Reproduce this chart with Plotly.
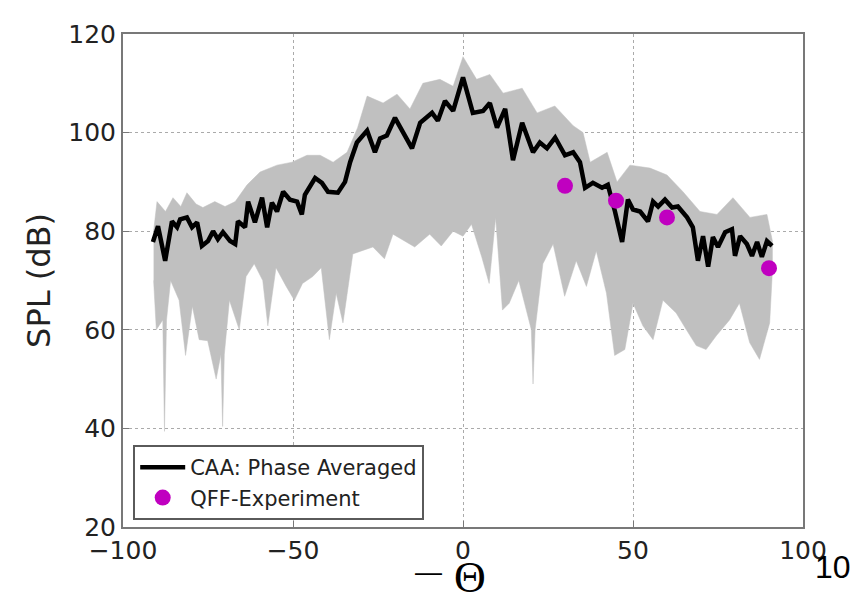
import plotly.graph_objects as go

# CAA phase averaged line
caa_theta = [-91.2, -89.7, -87.6, -85.6, -84.1, -83.2, -81.2, -79.7, -78.2, -76.8, -75, -73.5, -72.1, -70.6,
             -68.5, -67, -66.2, -64.1, -63.2, -61.2, -59.1, -57.6, -56.2, -54.7, -52.9, -50.9, -48.8, -47.4,
             -46.5, -43.5, -41.5, -39.7, -36.8, -34.7, -33.2, -31.2, -28.2, -25.9, -24.4, -22.4, -20, -17.6,
             -15, -12.6, -9.1, -7.4, -5.3, -2.9, 0, 2.9, 5.9, 7.9, 10, 12.4, 14.7, 17.4, 20.6, 22.6, 24.7,
             27.1, 30, 32.4, 34.4, 35.9, 38.2, 40.9, 42.6, 44.7, 46.8, 48.5, 50, 52.1, 54.4, 55.9, 57.4,
             59.4, 61.5, 63.2, 65.9, 67.6, 69.1, 70.6, 72.1, 73.5, 75, 77.1, 79.1, 80, 81.5, 83.5, 85, 86.5,
             87.9, 89.4, 90.9]
caa_spl = [77.8, 81, 74, 82, 80.8, 82.4, 82.8, 80.8, 81.8, 77, 78, 80, 78.4, 79.8,
           78, 77.4, 82, 80.8, 86, 81.8, 86.8, 80.8, 85.8, 84, 88, 86.4, 86, 83.4,
           87.4, 90.8, 89.8, 88, 87.8, 90, 94, 98, 100.4, 96, 98.8, 99.4, 103, 100,
           96.8, 102, 104, 102.4, 106.4, 104.4, 111.2, 104, 104.4, 106, 101, 104.8, 94.4, 102, 96, 98, 96.8,
           99, 95.4, 96, 94, 88.8, 89.8, 88.8, 89.4, 84, 77.8, 86.4, 84.4, 84, 82, 86, 85,
           86.4, 84.8, 85, 82.8, 80.8, 74, 79, 72.8, 78.8, 76.8, 79.8, 80.4, 75, 79, 77.4, 75, 77.8,
           74.8, 78, 77]

# Upper envelope of the spread band
upper_theta = [-91, -90, -87.5, -85.3, -83, -81.2, -78.5, -76.5, -73, -70, -67, -63.5, -59.7, -54.7, -50.3,
               -45.9, -42, -38.2, -34.1, -31, -28.2, -23.5, -19.4, -15.6, -11.8, -6.8, -2.9, 0, 4, 7.9,
               11.8, 17.4, 21.8, 27, 32.4, 35.3, 37.4, 42.4, 45.3, 49.1, 55, 60, 64.7, 69.7, 74.7,
               79.4, 84.4, 89.4, 91]
upper_spl = [80, 86, 84, 86.8, 85, 87.8, 85.5, 84.8, 86, 85, 86, 89.4, 92, 93.4, 94,
             95.4, 95.4, 94, 96, 101, 107.4, 106, 107.8, 104.8, 110, 110.8, 109.4, 115.4, 110.8, 111.8,
             108, 109, 104, 105.4, 101.4, 100, 94, 96, 90, 93.4, 92.8, 91.4, 88, 84, 83.4,
             86.8, 82.8, 83.4, 78]

# Lower envelope of the spread band
lower_theta = [-91, -90.2, -88.3, -87.8, -87.2, -86, -83.5, -81.6, -79.6, -77.6, -75.1, -72.6, -71.2, -70.7,
               -70.2, -68.7, -65.8, -63.8, -61.4, -58.9, -57.4, -55, -52, -49.6, -47.2, -44.2, -41.7,
               -39.3, -37.3, -35.3, -32.4, -26.5, -23.1, -20.6, -14.2, -9.8, -6.4, -2.9, 0, 2.5, 5.5,
               7.7, 9.6, 11.6, 13.6, 16.4, 20.1, 20.6, 21.2, 23.5, 26.5, 29.9, 33.3, 36.3, 39.2, 42.2,
               44.6, 47.6, 50, 52.9, 55.9, 58.8, 62.7, 65.7, 68.6, 71.5, 74.5, 78.4, 81.3, 84.3, 87.2,
               90.2, 91]
lower_spl = [70, 60, 62, 39.4, 62, 70, 66, 54.8, 64.8, 58, 57.8, 50, 55, 40.4,
             55, 66, 60, 70.8, 73.4, 70, 60.8, 72.6, 68.8, 66, 69.4, 70.8, 72.6,
             58, 67.4, 61.4, 75.4, 76.8, 74.4, 79.4, 76.8, 79.4, 77, 80, 79, 81.4, 74.8,
             69.4, 82.8, 64, 65.4, 70, 60, 49, 60, 73.4, 77.4, 66.8, 74, 68.8, 76, 67.4,
             54.8, 56, 65.4, 60.8, 58, 66, 63.4, 60, 56.8, 56, 58.8, 62, 65.4, 57.4, 54,
             61.4, 72]

# QFF experiment points
qff_theta = [30, 45, 60, 90]
qff_spl = [89.2, 86.2, 82.8, 72.5]

x_ticks = [-100, -50, 0, 50, 100]
x_tick_text = ["\u2212100", "\u221250", "0", "50", "100"]
y_ticks = [20, 40, 60, 80, 100, 120]

fig = go.Figure()

band_x = upper_theta + lower_theta[::-1]
band_y = upper_spl + lower_spl[::-1]
fig.add_trace(go.Scatter(x=band_x, y=band_y, fill="toself", fillcolor="rgb(192,192,192)",
                         line=dict(width=0.5, color="rgb(192,192,192)"), mode="lines",
                         showlegend=False, hoverinfo="skip"))

fig.add_trace(go.Scatter(x=caa_theta, y=caa_spl, mode="lines", name="CAA: Phase Averaged",
                         line=dict(color="black", width=4.5)))

fig.add_trace(go.Scatter(x=qff_theta, y=qff_spl, mode="markers", name="QFF-Experiment",
                         marker=dict(color="#c000c0", size=16, line=dict(width=0))))

axis_common = dict(showgrid=True, gridcolor="rgb(170,170,170)", griddash="dot", gridwidth=1,
                   showline=True, linecolor="rgb(120,120,120)", linewidth=2, mirror=True,
                   ticks="inside", ticklen=6, tickcolor="rgb(120,120,120)", zeroline=False,
                   tickfont=dict(family="DejaVu Sans", size=25, color="#222"))

fig.update_layout(
    width=859, height=587,
    margin=dict(l=115, r=64, t=17, b=68),
    paper_bgcolor="white", plot_bgcolor="white",
    xaxis=dict(range=[-100, 100], tickvals=x_ticks, ticktext=x_tick_text, **axis_common),
    yaxis=dict(range=[20, 120], tickvals=y_ticks,
               title=dict(text="SPL (dB)", font=dict(family="DejaVu Sans", size=32, color="#222"), standoff=8),
               **axis_common),
    legend=dict(x=0.015, y=0.014, xanchor="left", yanchor="bottom", bgcolor="white",
                bordercolor="rgb(90,90,90)", borderwidth=2, itemwidth=45,
                font=dict(family="DejaVu Sans", size=21, color="#222"), tracegroupgap=2),
    annotations=[
        dict(text="Θ", x=0.5, y=0, xref="paper", yref="paper", xanchor="center", yanchor="middle",
             showarrow=False, font=dict(family="Liberation Serif", size=44, color="black"),
             xshift=7, yshift=-50),
        dict(text="\u2014", x=0.5, y=0, xref="paper", yref="paper", xanchor="center", yanchor="middle",
             showarrow=False, font=dict(family="Liberation Sans", size=27, color="black"),
             xshift=-35, yshift=-45),
        dict(text="10", x=1.0, y=0, xref="paper", yref="paper", xanchor="center", yanchor="middle",
             showarrow=False, font=dict(family="Liberation Sans", size=32, color="black"),
             xshift=30, yshift=-40),
    ],
)

fig.write_html("out.html")
